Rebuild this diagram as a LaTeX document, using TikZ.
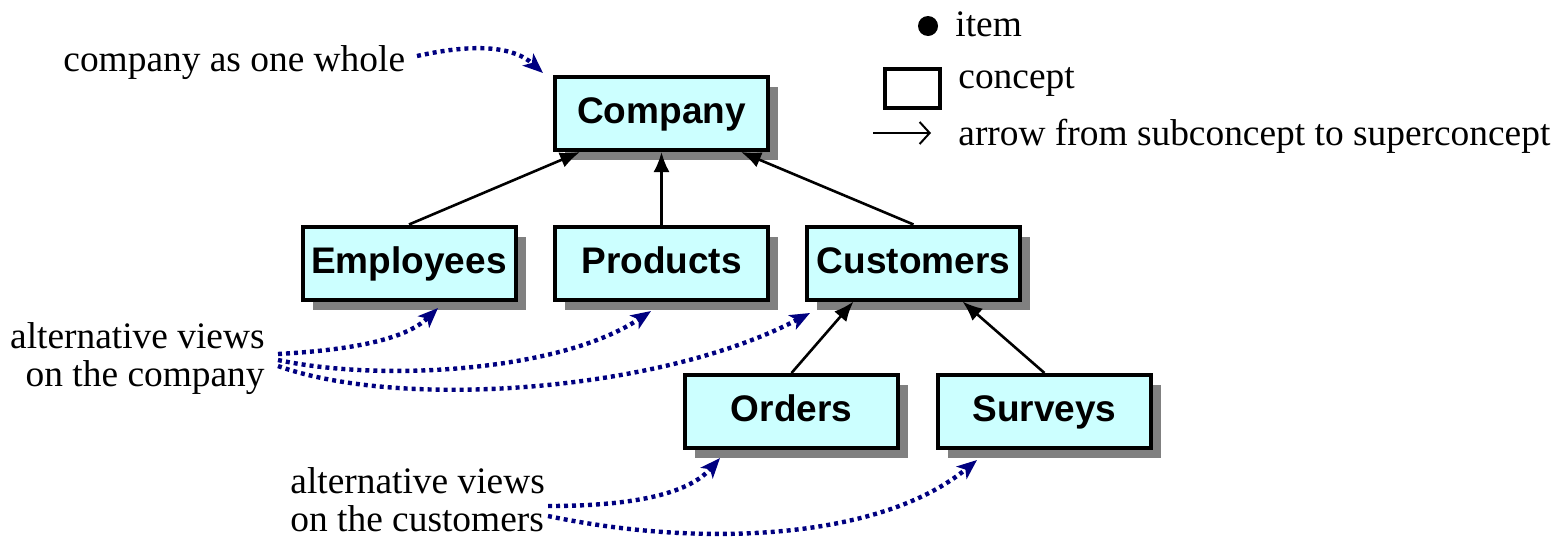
\documentclass[tikz,border=0pt]{standalone}
\usepackage{fontspec}
\setmainfont{Liberation Serif}
\setsansfont{Liberation Sans}
\usetikzlibrary{arrows.meta,shadows}

\definecolor{conceptfill}{RGB}{204,255,255}
\definecolor{shadowgray}{RGB}{128,128,128}
\definecolor{viewblue}{RGB}{0,0,128}

\begin{document}
\begin{tikzpicture}[x=0.5pt,y=-0.5pt,
  concept/.style={draw=black, line width=2pt, fill=conceptfill,
    minimum width=106.5pt, minimum height=36.5pt, inner sep=0pt,
    text height=14pt, text depth=4pt,
    font=\sffamily\bfseries\fontsize{18.5}{22}\selectfont,
    drop shadow={shadow xshift=5pt, shadow yshift=-5pt, fill=shadowgray, opacity=1}},
  isa/.style={-{Latex[length=10pt,width=8pt]}, line width=1.3pt},
  view/.style={draw=viewblue, line width=2.2pt, dash pattern=on 2pt off 2pt,
    -{Stealth[length=10pt,width=8pt,inset=2.5pt]}},
  note/.style={font=\fontsize{18.7}{19}\selectfont, inner sep=0pt}
]
\useasboundingbox (0,0) rectangle (1567,536);

% concept hierarchy
\node[concept] (company)   at (661.5,113.5) {Company};
\node[concept] (employees) at (409,263)     {Employees};
\node[concept] (products)  at (661.5,263)   {Products};
\node[concept] (customers) at (913.5,263)   {Customers};
\node[concept] (orders)    at (791.5,411.5) {Orders};
\node[concept] (surveys)   at (1044.5,411.5){Surveys};

\draw[isa] (employees.north) -- ([xshift=-40.75pt]company.south);
\draw[isa] (products.north)  -- (company.south);
\draw[isa] (customers.north) -- ([xshift=39.75pt]company.south);
\draw[isa] (orders.north)    -- ([xshift=-30pt]customers.south);
\draw[isa] (surveys.north)   -- ([xshift=24.5pt]customers.south);

% legend
\node[circle, fill=black, minimum size=10pt, inner sep=0pt] (itemdot) at (928,26) {};
\node[draw=black, line width=2pt, minimum width=27.5pt, minimum height=19.5pt, inner sep=0pt] (conceptbox) at (912.5,88.5) {};
\coordinate (arrowfrom) at (873,133);
\coordinate (arrowto)   at (931,133);
\draw[line width=1pt, -{Straight Barb[length=5pt,width=11pt]}] (arrowfrom) -- (arrowto);
\node[note, anchor=base west] (itemtext)    at (955,36)  {item};
\node[note, anchor=base west] (concepttext) at (958,88)  {concept};
\node[note, anchor=base west] (arrowtext)   at (958,145) {arrow from subconcept to superconcept};

% annotations
\node[note, anchor=base west] (whole) at (63,71) {company as one whole};
\node[note, anchor=base east, align=right] (viewsco) at (265,386) {alternative views\\on the company};
\node[note, anchor=base west, align=left] (viewscu) at (290,531) {alternative views\\on the customers};

\coordinate (w0) at (417,56);
\coordinate (w1) at (543,73);
\draw[view] (w0) .. controls (480,42) and (515,48) .. (w1);

\coordinate (a0) at (278,354);
\coordinate (a1) at (278,360);
\coordinate (a2) at (278,366);
\coordinate (tE) at (438,308);
\coordinate (tP) at (651,311);
\coordinate (tC) at (810,313);
\draw[view] (a0) .. controls (350,350) and (405,340) .. (tE);
\draw[view] (a1) .. controls (380,382) and (560,372) .. (tP);
\draw[view] (a2) .. controls (400,410) and (660,392) .. (tC);

\coordinate (b0) at (548,506);
\coordinate (b1) at (548,516);
\coordinate (tO) at (720,458);
\coordinate (tS) at (977,460);
\draw[view] (b0) .. controls (640,506) and (690,492) .. (tO);
\draw[view] (b1) .. controls (700,548) and (880,540) .. (tS);
\end{tikzpicture}
\end{document}
